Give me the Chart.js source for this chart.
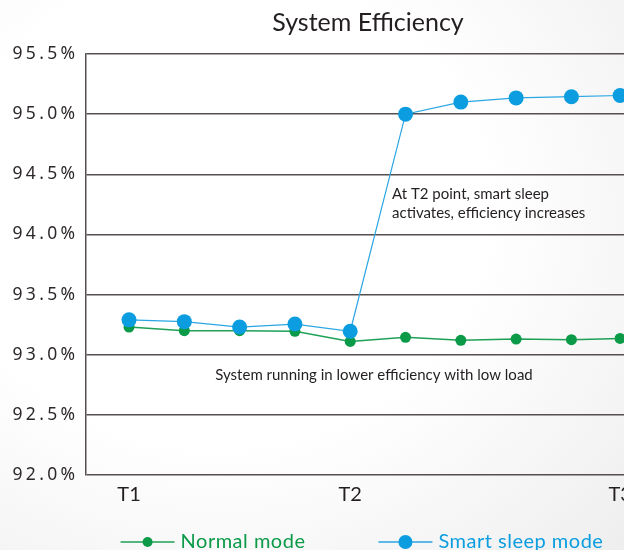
<!DOCTYPE html>
<html>
<head>
<meta charset="utf-8">
<script src="https://cdn.jsdelivr.net/npm/chart.js@4.4.1/dist/chart.umd.min.js"></script>
<style>
    html, body { margin: 0; padding: 0; overflow: hidden; }
    body {
        width: 624px;
        height: 550px;
        background: radial-gradient(ellipse 95% 95% at 35% 38%, #ffffff 45%, #ececec 100%);
    }
    #chartArea { position: relative; width: 736px; height: 580px; }
</style>
</head>
<body>
<div id="chartArea"><canvas id="chartArea-canvas"></canvas></div>
<script>
    // sampling instants along the time axis (T1 = 0)
    const sampleTimes = [0, 1, 2, 3, 4, 5, 6, 7, 8, 8.88];
    const normalMode = [93.23, 93.20, 93.20, 93.195, 93.11, 93.145, 93.12, 93.13, 93.125, 93.135];
    const smartSleepMode = [93.29, 93.275, 93.23, 93.255, 93.195, 95.0, 95.10, 95.135, 95.145, 95.155];
    const tickTimes = [0, 4, 8.88];
    const tickLabels = ['T1', 'T2', 'T3'];
    const seriesLabels = ['Normal mode', 'Smart sleep mode'];

    const green = '#0a9a48';
    const blue = '#0b9de0';
    const gridColor = '#574f4f';
    const textColor = '#231f20';

    // text notes placed in data units (x = time, y = efficiency)
    const notes = [
        { x: 4.756, y: 94.297, align: 'left', lines: ['At T2 point, smart sleep', 'activates, efficiency increases'] },
        { x: 4.43, y: 92.792, align: 'center', lines: ['System running in lower efficiency with low load'] }
    ];

    // linear scale whose tick labels are drawn letter-spaced
    class SpacedLinearScale extends Chart.LinearScale {
        drawLabels(chartArea) {
            const ctx = this.ctx;
            ctx.save();
            ctx.letterSpacing = '3.3px';
            super.drawLabels(chartArea);
            ctx.restore();
        }
    }
    SpacedLinearScale.id = 'spacedLinear';
    SpacedLinearScale.defaults = {};
    Chart.register(SpacedLinearScale);

    const noteText = {
        id: 'noteText',
        afterDatasetsDraw(chart) {
            const ctx = chart.ctx;
            const x = chart.scales.x, y = chart.scales.y;
            ctx.save();
            ctx.font = '15px Lato';
            ctx.fillStyle = textColor;
            ctx.textBaseline = 'alphabetic';
            notes.forEach(n => {
                ctx.textAlign = n.align;
                n.lines.forEach((line, i) => {
                    ctx.fillText(line, x.getPixelForValue(n.x), y.getPixelForValue(n.y) + i * 19.4);
                });
            });
            ctx.restore();
        }
    };

    // legend drawn as a short line with the series marker on it
    const lineLegend = {
        id: 'lineLegend',
        afterDraw(chart) {
            const ctx = chart.ctx;
            const sets = chart.data.datasets;
            const symbolW = 54, textGap = 6, itemGap = 73;
            ctx.save();
            ctx.font = '20px Lato';
            ctx.letterSpacing = '0.5px';
            const widths = sets.map(ds => symbolW + textGap + ctx.measureText(ds.label).width);
            const total = widths.reduce((a, b) => a + b, 0) + itemGap * (sets.length - 1);
            let left = chart.width / 2 - 6 - total / 2;
            const cy = chart.chartArea.bottom + 67;
            sets.forEach((ds, i) => {
                ctx.strokeStyle = ds.borderColor;
                ctx.lineWidth = 1.3;
                ctx.beginPath();
                ctx.moveTo(left, cy);
                ctx.lineTo(left + symbolW, cy);
                ctx.stroke();
                ctx.fillStyle = ds.pointBackgroundColor;
                ctx.beginPath();
                ctx.arc(left + symbolW / 2, cy, ds.pointRadius - 0.5, 0, Math.PI * 2);
                ctx.fill();
                ctx.textAlign = 'left';
                ctx.textBaseline = 'middle';
                ctx.fillText(ds.label, left + symbolW + textGap, cy);
                left += widths[i] + itemGap;
            });
            ctx.restore();
        }
    };

    const canvas = document.getElementById('chartArea-canvas');
    const chartJs = new Chart(canvas, {
        type: 'line',
        data: {
            datasets: [
                {
                    label: seriesLabels[0],
                    data: sampleTimes.map((t, i) => ({ x: t, y: normalMode[i] })),
                    borderColor: '#1fa055',
                    borderWidth: 1.5,
                    pointBackgroundColor: green,
                    pointBorderWidth: 0,
                    pointRadius: 5.5,
                    tension: 0,
                    order: 1
                },
                {
                    label: seriesLabels[1],
                    data: sampleTimes.map((t, i) => ({ x: t, y: smartSleepMode[i] })),
                    borderColor: '#2aa6e3',
                    borderWidth: 1.2,
                    pointBackgroundColor: blue,
                    pointBorderWidth: 0,
                    pointRadius: 7.5,
                    tension: 0,
                    order: 0
                }
            ]
        },
        options: {
            responsive: true,
            maintainAspectRatio: false,
            animation: false,
            layout: { autoPadding: false, padding: { top: 0, left: 0, right: 0, bottom: 65 } },
            plugins: {
                legend: { display: false },
                tooltip: { enabled: false },
                title: {
                    display: true,
                    text: 'System Efficiency',
                    color: textColor,
                    font: { family: 'Lato', size: 25, weight: 'normal' },
                    padding: { top: 8, bottom: 16 }
                }
            },
            scales: {
                x: {
                    type: 'linear',
                    min: -0.778,
                    max: 10.976,
                    afterFit: s => { s.height = 40; },
                    afterBuildTicks: s => { s.ticks = tickTimes.map(v => ({ value: v })); },
                    grid: { display: false, drawTicks: false },
                    border: { display: false },
                    ticks: {
                        padding: 8,
                        autoSkip: false,
                        maxRotation: 0,
                        color: textColor,
                        font: { family: 'Lato', size: 20 },
                        callback: (value, index) => tickLabels[index]
                    }
                },
                y: {
                    type: 'spacedLinear',
                    min: 92,
                    max: 95.5,
                    afterFit: s => { s.width = 86; },
                    border: { display: true, color: gridColor, width: 1.5 },
                    grid: { color: gridColor, lineWidth: 1.5, drawTicks: false },
                    ticks: {
                        stepSize: 0.5,
                        padding: 7.7,
                        color: '#2e2929',
                        font: { family: '"Noto Sans"', size: 17.5 },
                        callback: value => value.toFixed(1) + '%'
                    }
                }
            }
        },
        plugins: [noteText, lineLegend]
    });
</script>
</body>
</html>
